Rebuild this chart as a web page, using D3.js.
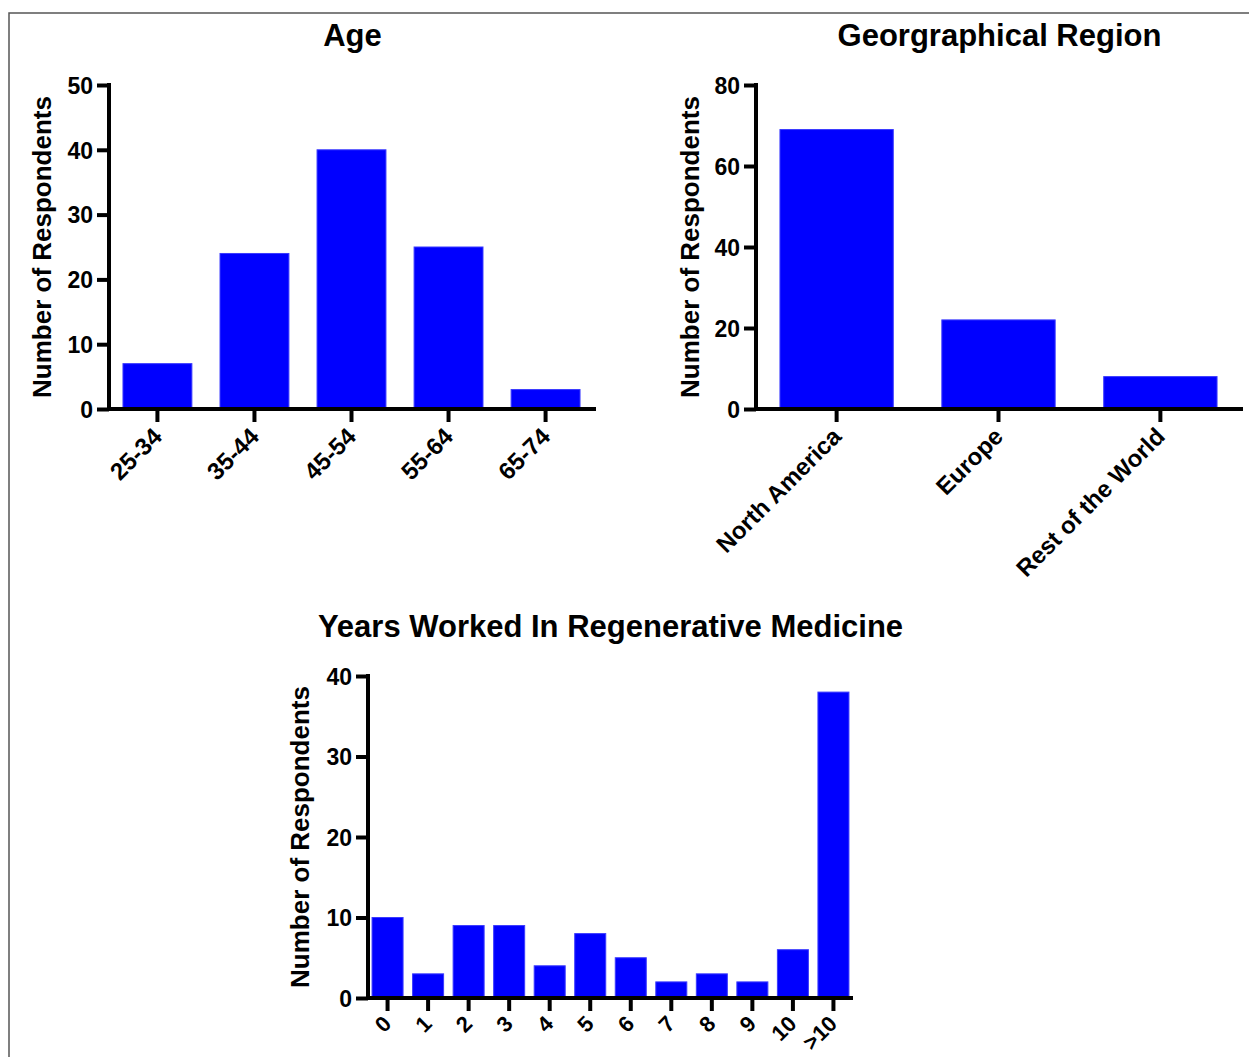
<!DOCTYPE html>
<html>
<head>
<meta charset="utf-8">
<script src="https://cdn.jsdelivr.net/npm/d3@7"></script>
<style>
  body { margin: 0; background: #fff; }
  svg text { font-family: "Liberation Sans", Arial, Helvetica, sans-serif; font-weight: bold; fill: #000; }
</style>
</head>
<body>
<svg id="chart" width="1249" height="1057"></svg>
<script>
// 数据
var ageCategories = ['25-34', '35-44', '45-54', '55-64', '65-74'];
var ageValues = [7, 24, 40, 25, 3];
var ageTicks = [0, 10, 20, 30, 40, 50];

var regionCategories = ['North America', 'Europe', 'Rest of the World'];
var regionValues = [69, 22, 8];
var regionTicks = [0, 20, 40, 60, 80];

var yearsCategories = ['0', '1', '2', '3', '4', '5', '6', '7', '8', '9', '10', '>10'];
var yearsValues = [10, 3, 9, 9, 4, 8, 5, 2, 3, 2, 6, 38];
var yearsTicks = [0, 10, 20, 30, 40];

var svg = d3.select('#chart');

// 外框
svg.append('rect')
    .attr('x', 9).attr('y', 13)
    .attr('width', 1300).attr('height', 1100)
    .attr('fill', 'none')
    .attr('stroke', '#555')
    .attr('stroke-width', 1.5);

// 单个柱状图
function drawPanel(opt) {
    var g = svg.append('g');
    var y = d3.scaleLinear().domain(opt.domain).range([opt.bottom, opt.top]);
    var x = d3.scaleBand()
        .domain(opt.categories)
        .range([opt.left, opt.right])
        .paddingInner(opt.padIn)
        .paddingOuter(opt.padOut);

    g.selectAll('rect.bar')
        .data(opt.values)
        .enter()
        .append('rect')
        .attr('class', 'bar')
        .attr('x', (d, i) => x(opt.categories[i]))
        .attr('y', d => y(d))
        .attr('width', x.bandwidth())
        .attr('height', d => opt.bottom - y(d))
        .attr('fill', '#0000ff')
        .attr('stroke', '#3a3aff')
        .attr('stroke-width', 1);

    // y 轴
    var yAxis = g.append('g')
        .attr('transform', 'translate(' + opt.left + ',0)')
        .call(d3.axisLeft(y).tickValues(opt.ticks).tickSize(12).tickSizeOuter(0).tickPadding(4));
    yAxis.select('.domain').remove();
    yAxis.selectAll('.tick line').attr('stroke', '#000').attr('stroke-width', 4);
    yAxis.selectAll('.tick text').style('font-size', '23px').attr('dy', '0.36em');

    // x 轴
    var xAxis = g.append('g')
        .attr('transform', 'translate(0,' + opt.bottom + ')')
        .call(d3.axisBottom(x).tickSize(13).tickSizeOuter(0));
    xAxis.select('.domain').remove();
    xAxis.selectAll('.tick line').attr('stroke', '#000').attr('stroke-width', 4);
    xAxis.selectAll('.tick text')
        .style('font-size', opt.xFont + 'px')
        .attr('text-anchor', 'end')
        .attr('x', 0).attr('y', 0).attr('dy', 0)
        .attr('transform', 'translate(' + opt.xShift[0] + ',' + opt.xShift[1] + ') rotate(-45)');

    g.append('line')
        .attr('x1', opt.left).attr('x2', opt.left)
        .attr('y1', opt.top - 2).attr('y2', opt.bottom + 2)
        .attr('stroke', '#000').attr('stroke-width', 4);
    g.append('line')
        .attr('x1', opt.left - 2).attr('x2', opt.axisEnd)
        .attr('y1', opt.bottom).attr('y2', opt.bottom)
        .attr('stroke', '#000').attr('stroke-width', 4);

    g.append('text')
        .attr('x', (opt.left + opt.axisEnd) / 2)
        .attr('y', opt.titleY)
        .attr('text-anchor', 'middle')
        .style('font-size', '31px')
        .text(opt.title);

    g.append('text')
        .attr('transform', 'translate(' + opt.labelX + ',' + (opt.top + opt.bottom) / 2 + ') rotate(-90)')
        .attr('text-anchor', 'middle')
        .style('font-size', '26px')
        .text('Number of Respondents');
}

drawPanel({
    title: 'Age', categories: ageCategories, values: ageValues, ticks: ageTicks,
    domain: [0, 50], left: 109, right: 594, axisEnd: 596, top: 85, bottom: 409,
    padIn: 0.29, padOut: 0.144, titleY: 46, labelX: 51, xFont: 24, xShift: [6, 29]
});

drawPanel({
    title: 'Georgraphical Region', categories: regionCategories, values: regionValues, ticks: regionTicks,
    domain: [0, 80], left: 756, right: 1241, axisEnd: 1243, top: 85, bottom: 409,
    padIn: 0.30, padOut: 0.148, titleY: 46, labelX: 699, xFont: 24, xShift: [6, 29]
});

drawPanel({
    title: 'Years Worked In Regenerative Medicine', categories: yearsCategories, values: yearsValues, ticks: yearsTicks,
    domain: [0, 40], left: 368, right: 853, axisEnd: 853, top: 676, bottom: 998,
    padIn: 0.235, padOut: 0.1, titleY: 637, labelX: 309, xFont: 22, xShift: [5, 27]
});
</script>
</body>
</html>
